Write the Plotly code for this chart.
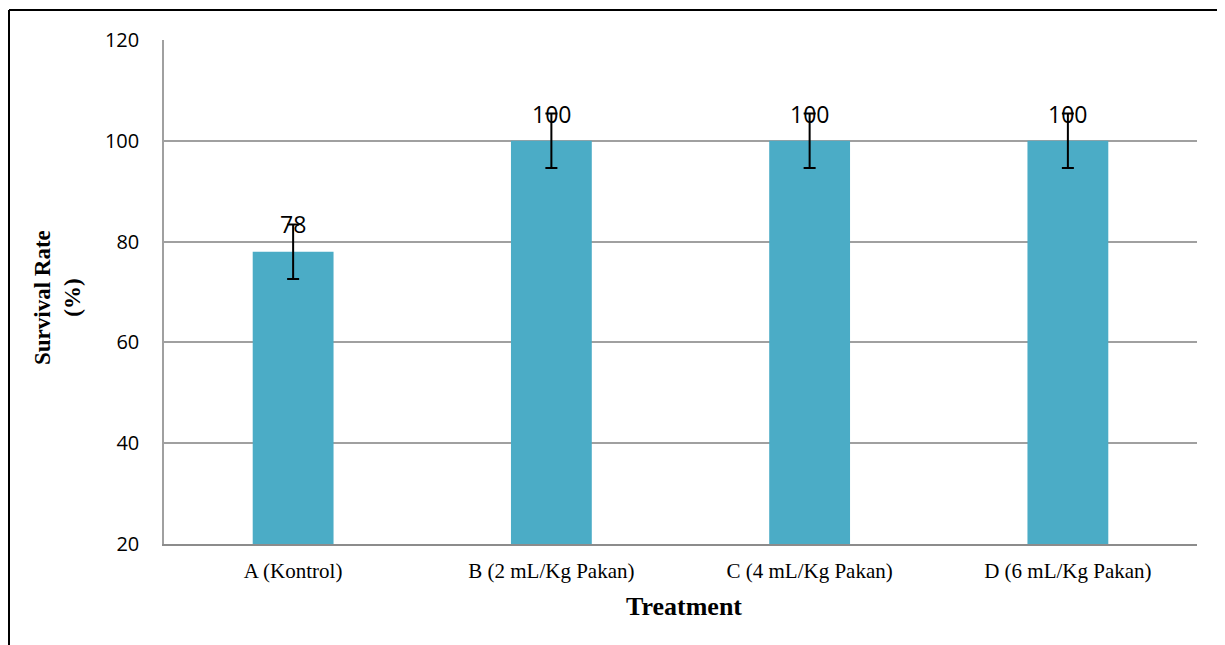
import plotly.graph_objects as go

categories = ["A (Kontrol)", "B (2 mL/Kg Pakan)", "C (4 mL/Kg Pakan)", "D (6 mL/Kg Pakan)"]
survival = [78, 100, 100, 100]
errors = [5.4, 5.4, 5.4, 5.4]
y_ticks = [20, 40, 60, 80, 100, 120]

W, H = 1225, 645
OFF = 8  # page body margin
L, R, T, B = 164 - OFF, 28 + OFF, 40 - OFF, 101 + OFF
pw, ph = W - L - R, H - T - B

def px_x(px):
    return (px - OFF - L) / pw

def px_y(py):
    return (H - B - (py - OFF)) / ph

fig = go.Figure()
fig.add_trace(go.Bar(
    x=categories, y=survival, width=0.313,
    marker=dict(color="#4BACC6", line=dict(width=0)),
    error_y=dict(type="data", array=errors, visible=True, color="black",
                 thickness=2, width=6),
))

for c, v, e in zip(categories, survival, errors):
    fig.add_annotation(x=c, y=v + e, text=str(v), showarrow=False,
                       xanchor="center", yanchor="middle",
                       font=dict(family="Open Sans", size=23, color="black"))

fig.add_annotation(xref="paper", yref="paper", x=px_x(684), y=px_y(606),
                   text="<b>Treatment</b>", showarrow=False,
                   xanchor="center", yanchor="middle",
                   font=dict(family="Liberation Serif", size=26, color="black"))
fig.add_annotation(xref="paper", yref="paper", x=px_x(57), y=px_y(298),
                   text="<b>Survival Rate<br>(%)</b>", showarrow=False,
                   textangle=-90, xanchor="center", yanchor="middle",
                   font=dict(family="Liberation Serif", size=23, color="black"))

# outer frame (cropped at right and bottom)
fig.add_shape(type="line", xref="paper", yref="paper",
              x0=px_x(9), x1=px_x(1240), y0=px_y(10), y1=px_y(10),
              line=dict(color="black", width=2))
fig.add_shape(type="line", xref="paper", yref="paper",
              x0=px_x(9), x1=px_x(9), y0=px_y(10), y1=px_y(660),
              line=dict(color="black", width=2))

fig.update_layout(
    width=W, height=H,
    margin=dict(l=L, r=R, t=T, b=B),
    plot_bgcolor="white", paper_bgcolor="white",
    showlegend=False,
    xaxis=dict(showline=True, linecolor="#8C8C8C", linewidth=2, ticks="",
               ticklabelstandoff=7,
               tickfont=dict(family="Liberation Serif", size=21, color="black"),
               showgrid=False, range=[-0.5, 3.5]),
    yaxis=dict(range=[20, 120], tickvals=y_ticks, showgrid=True,
               gridcolor="#A0A0A0", gridwidth=1.5, showline=True,
               linecolor="#A0A0A0", linewidth=1.5, ticks="",
               ticklabelstandoff=19, zeroline=False,
               tickfont=dict(family="Open Sans", size=20, color="black")),
)

fig.write_html("out.html")
